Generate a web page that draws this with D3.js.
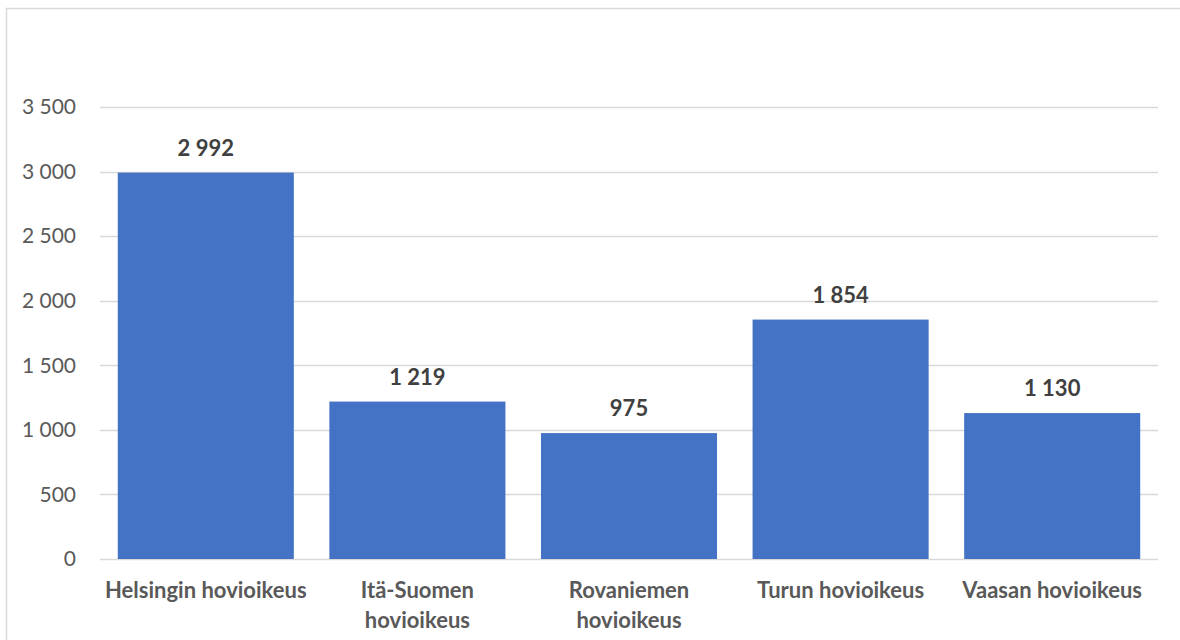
<!DOCTYPE html>
<html>
<head>
<meta charset="utf-8">
<script src="https://cdnjs.cloudflare.com/ajax/libs/d3/7.8.5/d3.min.js"></script>
<style>
body { margin: 0; background: #fff; }
text { font-family: Lato, "Open Sans", sans-serif; }
</style>
</head>
<body>
<div id="chart"></div>
<script>
var categories = ["Helsingin hovioikeus", "Itä-Suomen hovioikeus", "Rovaniemen hovioikeus", "Turun hovioikeus", "Vaasan hovioikeus"];
var labelLines = [["Helsingin hovioikeus"], ["Itä-Suomen", "hovioikeus"], ["Rovaniemen", "hovioikeus"], ["Turun hovioikeus"], ["Vaasan hovioikeus"]];
var values = [2992, 1219, 975, 1854, 1130];
var yTicks = [0, 500, 1000, 1500, 2000, 2500, 3000, 3500];

var width = 1180;
var height = 640;
var margin = {top: 107, right: 22, bottom: 81, left: 100};

var fmt = function(v) { return d3.format(",")(v).replace(/,/g, "\u00a0"); };

var svg = d3.select("#chart").append("svg")
	.attr("width", width)
	.attr("height", height);

// chart border
svg.append("path")
	.attr("d", "M6.5,641 V8.5 H1181")
	.attr("fill", "none")
	.attr("stroke", "#d9d9d9")
	.attr("stroke-width", 1.5);

var x = d3.scaleBand()
	.domain(categories)
	.range([margin.left, width - margin.right])
	.paddingInner(0.168)
	.paddingOuter(0.084);

var y = d3.scaleLinear()
	.domain([0, 3500])
	.range([height - margin.bottom, margin.top]);

// gridlines
svg.append("g")
	.selectAll("line")
	.data(yTicks)
	.enter()
	.append("line")
	.attr("x1", margin.left)
	.attr("x2", width - margin.right)
	.attr("y1", d => Math.round(y(d)) + 0.5)
	.attr("y2", d => Math.round(y(d)) + 0.5)
	.attr("stroke", "#d9d9d9")
	.attr("stroke-width", 1.5);

// y axis labels
var yAxis = d3.axisLeft(y).tickValues(yTicks).tickFormat(fmt).tickSize(0).tickPadding(0);
var yg = svg.append("g")
	.attr("transform", "translate(76,0)")
	.call(yAxis);
yg.select(".domain").remove();
yg.selectAll("text")
	.attr("fill", "#595959")
	.style("font-size", "21px")
	.style("font-family", "Lato, 'Open Sans', sans-serif");

// bars
svg.append("g")
	.selectAll("rect")
	.data(values)
	.enter()
	.append("rect")
	.attr("x", (d, i) => x(categories[i]))
	.attr("width", x.bandwidth())
	.attr("y", d => y(d))
	.attr("height", d => y(0) - y(d))
	.attr("fill", "#4472c4");

// value labels
svg.append("g")
	.selectAll("text")
	.data(values)
	.enter()
	.append("text")
	.attr("x", (d, i) => x(categories[i]) + x.bandwidth() / 2)
	.attr("y", d => y(d) - 17)
	.attr("text-anchor", "middle")
	.attr("fill", "#404040")
	.style("font-size", "22px")
	.style("font-weight", "bold")
	.text(fmt);

// category labels
var cat = svg.append("g")
	.selectAll("text")
	.data(labelLines)
	.enter()
	.append("text")
	.attr("x", (d, i) => x(categories[i]) + x.bandwidth() / 2)
	.attr("y", height - margin.bottom + 39)
	.attr("text-anchor", "middle")
	.attr("fill", "#595959")
	.style("font-size", "22px")
	.style("font-weight", "bold");
cat.selectAll("tspan")
	.data(d => d)
	.enter()
	.append("tspan")
	.attr("x", function() { return d3.select(this.parentNode).attr("x"); })
	.attr("dy", (d, i) => i === 0 ? 0 : 30)
	.text(d => d);
</script>
</body>
</html>
